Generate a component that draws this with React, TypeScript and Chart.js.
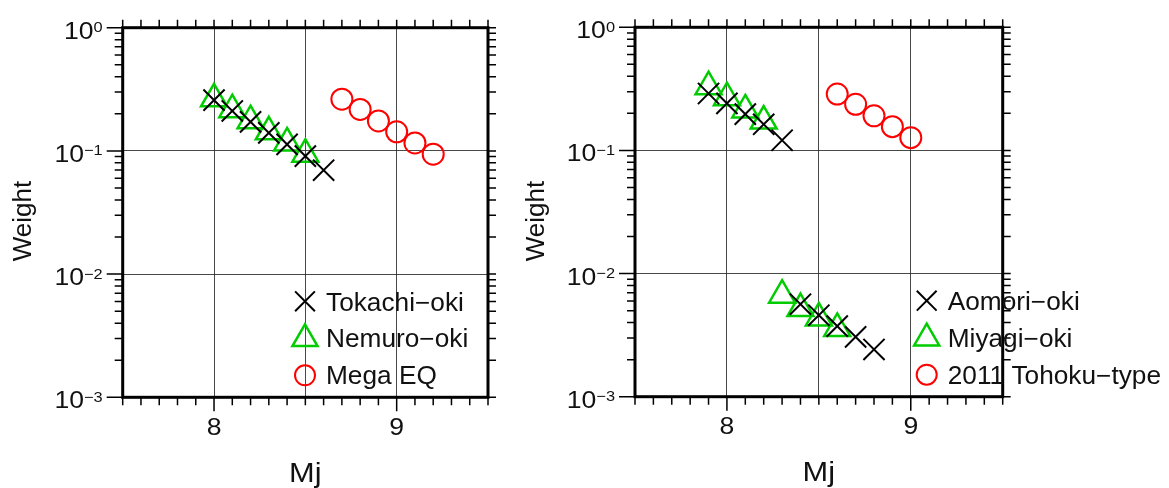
import React, { useEffect, useRef } from 'react';
import { Chart, registerables } from 'chart.js';
import { drawPoint } from 'chart.js/helpers';

Chart.register(...registerables);

// ---------- data ----------
const tokachiX = [8.0, 8.1, 8.2, 8.3, 8.4, 8.5, 8.6];
const tokachiW = [0.258, 0.211, 0.172, 0.14, 0.113, 0.0906, 0.0697];
const nemuroX = [8.0, 8.1, 8.2, 8.3, 8.4, 8.5];
const nemuroW = [0.265, 0.216, 0.176, 0.143, 0.116, 0.094];
const megaX = [8.7, 8.8, 8.9, 9.0, 9.1, 9.2];
const megaW = [0.263, 0.217, 0.175, 0.143, 0.116, 0.094];

const aomoriX = [7.9, 8.0, 8.1, 8.2, 8.3, 8.4, 8.5, 8.6, 8.7, 8.8];
const aomoriW = [0.29, 0.241, 0.197, 0.163, 0.121, 0.00564, 0.00459, 0.00374, 0.00306, 0.00242];
const miyagiX = [7.9, 8.0, 8.1, 8.2, 8.3, 8.4, 8.5, 8.6];
const miyagiW = [0.329, 0.268, 0.213, 0.173, 0.00667, 0.0052, 0.00436, 0.00358];
const tohokuX = [8.6, 8.7, 8.8, 8.9, 9.0];
const tohokuW = [0.287, 0.237, 0.191, 0.156, 0.127];

const leftLabels = ['Tokachi\u2212oki', 'Nemuro\u2212oki', 'Mega EQ'];
const rightLabels = ['Aomori\u2212oki', 'Miyagi\u2212oki', '2011 Tohoku\u2212type'];

const xMin = 7.5;
const xMax = 9.5;
const xLabelTicks = [8, 9];
const xGridTicks = [8, 8.5, 9];
const yExponents = [0, -1, -2, -3];
const yGridTicks = [0.1, 0.01];
const xTitle = 'Mj';
const yTitle = 'Weight';

// ---------- styles ----------
const FONT = "'Liberation Sans', Arial, Helvetica, sans-serif";
const SX = 1.13;
const LSX = 1.05;
const BLACK = '#000000';
const GREEN = '#00cc00';
const RED = '#ff0000';

const styleX = { pointStyle: 'crossRot', radius: 15, color: BLACK, width: 2 };
const styleT = { pointStyle: 'triangle', radius: 15, color: GREEN, width: 2.5 };
const styleC = { pointStyle: 'circle', radius: 10.5, color: RED, width: 2 };
const legendStyles = [
  { pointStyle: 'crossRot', radius: 14, color: BLACK, width: 2 },
  { pointStyle: 'triangle', radius: 14.5, color: GREEN, width: 2.5 },
  { pointStyle: 'circle', radius: 10, color: RED, width: 2 },
];

function ds(label: string, xs: number[], ys: number[], st: any) {
  return {
    label,
    data: xs.map((x, i) => ({ x, y: ys[i] })),
    pointStyle: st.pointStyle,
    pointRadius: st.radius,
    pointHoverRadius: st.radius,
    borderColor: st.color,
    backgroundColor: 'rgba(0,0,0,0)',
    pointBorderWidth: st.width,
    borderWidth: st.width,
    showLine: false,
    clip: false,
  };
}

function sText(ctx: CanvasRenderingContext2D, text: string, x: number, y: number, font: string, align: CanvasTextAlign, sx: number) {
  ctx.save();
  ctx.font = font;
  ctx.translate(x, y);
  ctx.scale(sx, 1);
  ctx.textAlign = align;
  ctx.textBaseline = 'alphabetic';
  ctx.fillText(text, 0, 0);
  ctx.restore();
}

function isIn(v: number, arr: number[]) {
  return arr.some((a) => Math.abs(a - v) < 1e-9 * Math.max(1, Math.abs(a)) || Math.abs(a - v) < 1e-12);
}

function makeFramePlugin(labels: string[], legendMarkerDX: number, titleDX: number) {
  return {
    id: 'frameAndLegend',
    afterDatasetsDraw(chart: any) {
      const ctx: CanvasRenderingContext2D = chart.ctx;
      const a = chart.chartArea;
      const xs = chart.scales.x;
      const ys = chart.scales.y;
      ctx.save();
      ctx.fillStyle = '#111';
      ctx.strokeStyle = BLACK;

      // tick marks
      ctx.lineWidth = 1.5;
      ctx.beginPath();
      const n = Math.round((xMax - xMin) / 0.1);
      for (let i = 0; i <= n; i++) {
        const v = xMin + i * 0.1;
        const px = xs.getPixelForValue(v);
        const major = isIn(Math.round(v * 10) / 10, xLabelTicks);
        ctx.moveTo(px, a.bottom);
        ctx.lineTo(px, a.bottom + (major ? 14 : 8));
        ctx.moveTo(px, a.top);
        ctx.lineTo(px, a.top - 8);
      }
      for (let e = -3; e <= 0; e++) {
        for (let m = 1; m <= 9; m++) {
          if (e === 0 && m > 1) break;
          const v = m * Math.pow(10, e);
          const py = ys.getPixelForValue(v);
          ctx.moveTo(a.left, py);
          ctx.lineTo(a.left - (m === 1 ? 16 : 8), py);
          ctx.moveTo(a.right, py);
          ctx.lineTo(a.right + 8, py);
        }
      }
      ctx.stroke();

      // frame
      ctx.lineWidth = 3;
      ctx.strokeRect(a.left, a.top, a.right - a.left, a.bottom - a.top);

      // x tick labels
      xLabelTicks.forEach((v) => {
        const px = xs.getPixelForValue(v);
        sText(ctx, String(v), px, a.bottom + 37.5, `23.5px ${FONT}`, 'center', SX);
      });

      // y tick labels 10^e
      const bigFont = `23.5px ${FONT}`;
      const supFont = `14.5px ${FONT}`;
      yExponents.forEach((e) => {
        const py = ys.getPixelForValue(Math.pow(10, e));
        const expStr = e < 0 ? '\u2212' + String(-e) : String(e);
        ctx.font = bigFont;
        const w10 = ctx.measureText('10').width * SX;
        ctx.font = supFont;
        const wE = ctx.measureText(expStr).width * SX;
        const right = a.left - 20;
        const start = right - w10 - wE;
        sText(ctx, '10', start, py + 11, bigFont, 'left', SX);
        sText(ctx, expStr, start + w10, py + 4.5, supFont, 'left', SX);
      });

      // axis titles
      const cx = (a.left + a.right) / 2;
      sText(ctx, xTitle, cx, a.bottom + 84.5, `28px ${FONT}`, 'center', 1.1);
      ctx.save();
      ctx.translate(a.left - titleDX, 221);
      ctx.rotate(-Math.PI / 2);
      ctx.font = `26px ${FONT}`;
      ctx.textAlign = 'center';
      ctx.textBaseline = 'alphabetic';
      ctx.fillText(yTitle, 0, 0);
      ctx.restore();

      // legend
      const rowsMarker = [-96, -58.5, -22];
      const rowsText = [-86.5, -50, -13];
      labels.forEach((lab, i) => {
        const st = legendStyles[i];
        const mx = a.left + legendMarkerDX;
        const my = a.bottom + rowsMarker[i];
        ctx.save();
        ctx.strokeStyle = st.color;
        ctx.fillStyle = 'rgba(0,0,0,0)';
        ctx.lineWidth = st.width;
        drawPoint(ctx, { pointStyle: st.pointStyle, radius: st.radius, borderWidth: st.width, rotation: 0 } as any, mx, my);
        ctx.restore();
        sText(ctx, lab, mx + 21, a.bottom + rowsText[i], `25px ${FONT}`, 'left', LSX);
      });
      ctx.restore();
    },
  };
}

function makeConfig(datasets: any[], labels: string[], padding: any, legendDX: number, titleDX: number) {
  return {
    type: 'scatter' as const,
    data: { datasets },
    options: {
      responsive: false,
      animation: false as const,
      events: [],
      layout: { padding },
      plugins: { legend: { display: false }, tooltip: { enabled: false } },
      scales: {
        x: {
          type: 'linear' as const,
          min: xMin,
          max: xMax,
          ticks: { display: false, stepSize: 0.5 },
          border: { display: false },
          grid: {
            drawTicks: false,
            lineWidth: 1,
            color: (c: any) => (c.tick && isIn(c.tick.value, xGridTicks) ? 'rgba(40,40,40,0.85)' : 'rgba(0,0,0,0)'),
          },
        },
        y: {
          type: 'logarithmic' as const,
          min: 0.001,
          max: 1,
          ticks: { display: false },
          border: { display: false },
          grid: {
            drawTicks: false,
            lineWidth: 1,
            color: (c: any) => (c.tick && isIn(c.tick.value, yGridTicks) ? 'rgba(40,40,40,0.85)' : 'rgba(0,0,0,0)'),
          },
        },
      },
    },
    plugins: [makeFramePlugin(labels, legendDX, titleDX)],
  };
}

function Panel({ left, width, config }: { left: number; width: number; config: () => any }) {
  const ref = useRef<HTMLCanvasElement>(null);
  useEffect(() => {
    const chart = new Chart(ref.current as HTMLCanvasElement, config());
    return () => chart.destroy();
  }, []);
  return (
    <canvas
      ref={ref}
      width={width}
      height={488}
      style={{ position: 'absolute', left, top: 0, width, height: 488 }}
    />
  );
}

export default function App() {
  const leftCfg = () =>
    makeConfig(
      [ds(leftLabels[0], tokachiX, tokachiW, styleX), ds(leftLabels[1], nemuroX, nemuroW, styleT), ds(leftLabels[2], megaX, megaW, styleC)],
      leftLabels,
      { left: 122.7, top: 27.7, right: 515 - 488, bottom: 488 - 397.3 },
      182.3,
      91.5
    );
  const rightCfg = () =>
    makeConfig(
      [ds(rightLabels[0], aomoriX, aomoriW, styleX), ds(rightLabels[1], miyagiX, miyagiW, styleT), ds(rightLabels[2], tohokuX, tohokuW, styleC)],
      rightLabels,
      { left: 635 - 515, top: 27.3, right: 654 - (1002.7 - 515), bottom: 488 - 396.7 },
      291.7,
      91.5
    );
  return (
    <div style={{ position: 'absolute', left: 0, top: 0, width: 1169, height: 488, background: '#ffffff' }}>
      <Panel left={0} width={515} config={leftCfg} />
      <Panel left={515} width={654} config={rightCfg} />
    </div>
  );
}
